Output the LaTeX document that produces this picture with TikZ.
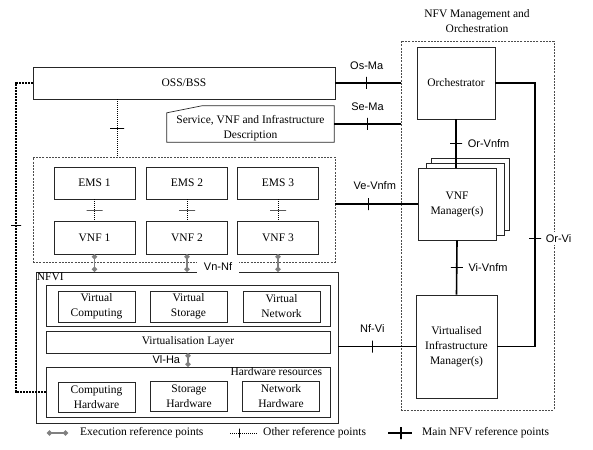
\documentclass[tikz,border=0pt]{standalone}
\usepackage{fontspec}
\setmainfont{Liberation Serif}
\newfontfamily\refsans{Liberation Sans}
\usetikzlibrary{arrows.meta, calc, positioning}

\begin{document}
\begin{tikzpicture}[x=1pt, y=-1pt, font=\fontsize{11.5}{15}\selectfont,
  box/.style={rectangle, draw=black!85, line width=0.7pt, align=center, inner sep=1pt},
  dashbox/.style={rectangle, draw=black!70, line width=0.6pt, dash pattern=on 2pt off 1.2pt},
  reflbl/.style={font=\refsans\fontsize{11}{13}\selectfont, inner sep=1pt, text=black},
  mainref/.style={line width=1.6pt},
  otherref/.style={line width=0.8pt, dash pattern=on 1pt off 1pt},
  execref/.style={line width=1.8pt, draw=gray, arrows={Circle[length=5pt]-Circle[length=5pt]}},
  bigdot/.style={line width=2pt, dash pattern=on 2pt off 1pt},
  tickv/.style={draw, solid, line width=1.2pt, inner sep=0pt, minimum width=0pt, minimum height=12pt},
  tickh/.style={draw, solid, line width=1.2pt, inner sep=0pt, minimum height=0pt, minimum width=12pt}]
  \useasboundingbox (0,0) rectangle (593,449);

  % OSS/BSS and descriptions
  \node[box, minimum width=302pt, minimum height=32pt] (oss) at (184,83) {OSS/BSS};
  \node[minimum width=167pt, minimum height=36pt, inner sep=0pt] (svc) at (250.5,124) {};
  \draw[draw=black!85, line width=0.7pt] ($(svc.north west)+(0,7)$) -- ($(svc.north west)+(35,0)$)
    -- (svc.north east) -- (svc.south east) -- (svc.south west) -- cycle;
  \node[align=center] (svctxt) at ([yshift=-4.5pt]svc.center) {Service, VNF and Infrastructure\\Description};

  % EMS / VNF
  \node[dashbox, minimum width=302pt, minimum height=105pt] (vnfarea) at (184,209.5) {};
  \foreach \i/\x in {1/94.5, 2/187, 3/278} {
    \node[box, minimum width=81pt, minimum height=32pt] (ems\i) at (\x,183) {EMS \i};
    \node[box, minimum width=81pt, minimum height=33pt] (vnf\i) at (\x,237.5) {VNF \i};
    \draw[otherref] (ems\i) -- node[tickh, minimum width=16pt, line width=1pt]{} (vnf\i);
  }

  % NFVI
  \node[box, minimum width=302pt, minimum height=151pt] (nfvi) at (187,347.5) {};
  \node[anchor=north west, inner sep=1pt] (nfvilbl) at (nfvi.north west) {NFVI};
  \node[box, minimum width=284pt, minimum height=41pt] (virt) at (188,305.5) {};
  \node[box, minimum width=77pt, minimum height=31pt] (vcomp) at (96.5,306.5) {Virtual\\Computing};
  \node[box, minimum width=77pt, minimum height=31pt] (vstor) at (188.5,306.5) {Virtual\\Storage};
  \node[box, minimum width=77pt, minimum height=31pt] (vnet) at (281.5,306.5) {Virtual\\Network};
  \node[box, minimum width=284pt, minimum height=22pt] (vlayer) at (188,342) {Virtualisation Layer};
  \node[box, minimum width=284pt, minimum height=50pt] (hwres) at (188,392) {};
  \node[anchor=north east, inner sep=1pt] (hwlbl) at ([xshift=-7pt]hwres.north east) {Hardware resources};
  \node[box, minimum width=77pt, minimum height=30pt] (chw) at (96.5,397) {Computing\\Hardware};
  \node[box, minimum width=77pt, minimum height=30pt] (shw) at (189,396) {Storage\\Hardware};
  \node[box, minimum width=77pt, minimum height=30pt] (nhw) at (281,396) {Network\\Hardware};

  % MANO
  \node[dashbox, minimum width=153pt, minimum height=369pt] (mano) at (477.5,225.5) {};
  \node[align=center] (manotitle) at (477,21) {NFV Management and\\Orchestration};
  \node[box, minimum width=78pt, minimum height=72pt] (orch) at (456,83) {Orchestrator};
  \node[box, fill=white, minimum width=78pt, minimum height=72pt] (vnfmb2) at (470,194) {};
  \node[box, fill=white, minimum width=78pt, minimum height=72pt] (vnfmb1) at (465,199) {};
  \node[box, fill=white, minimum width=78pt, minimum height=72pt] (vnfm) at (457,204) {VNF\\Manager(s)};
  \node[box, minimum width=81pt, minimum height=103pt] (vim) at (456.5,346.5) {Virtualised\\Infrastructure\\Manager(s)};

  % main reference points
  \draw[mainref] (oss.east) -- node[tickv, pos=.48]{} node[reflbl, pos=.48, above=12pt]{Os-Ma} (oss.east -| mano.west);
  \draw[mainref] (svc.east) -- node[tickv, pos=.5]{} node[reflbl, pos=.5, above=12pt]{Se-Ma} (svc.east -| mano.west);
  \draw[mainref] (vnfarea.east |- vnfm.west) -- node[tickv, pos=.4]{} node[reflbl, pos=.48, above=13pt]{Ve-Vnfm} (vnfm.west);
  \draw[mainref] (nfvi.east |- vim.west) -- node[tickv, pos=.44]{} node[reflbl, pos=.44, above=12pt]{Nf-Vi} (vim.west);
  \draw[mainref] (orch.south) -- node[tickh]{} node[reflbl, right=10pt]{Or-Vnfm} (orch.south |- vnfm.north);
  \draw[mainref] (vnfm.south) -- node[tickh]{} node[reflbl, right=10pt]{Vi-Vnfm} (vim.north);
  \coordinate (orvi) at (535,83);
  \draw[mainref] (orch.east) -- (orvi) -- node[tickh, pos=.59]{}
    node[reflbl, pos=.59, right=8pt, fill=white, inner sep=2pt]{Or-Vi} (vim.east -| orvi) -- (vim.east);

  % other reference points
  \coordinate (lft) at (16,83);
  \draw[bigdot] (oss.west) -- (lft) -- node[tickh, pos=.46, minimum width=10pt]{} (lft |- hwres.west) -- (hwres.west);
  \draw[otherref] ([xshift=-67pt]oss.south) -- node[tickh, minimum width=14pt, line width=1pt]{}
    ([xshift=-67pt]oss.south |- vnfarea.north);

  % execution reference points
  \foreach \i in {1,2,3}
    \draw[execref] (vnf\i.south) -- (vnf\i.south |- nfvi.north);
  \node[reflbl, fill=white, minimum width=42pt, minimum height=13pt] (vnnf) at (218,267) {Vn-Nf};
  \draw[execref] (vlayer.south) -- node[reflbl, left=6pt]{Vl-Ha} (hwres.north);

  % legend
  \node[anchor=west, inner sep=0pt] (lgexec) at (80,433) {Execution reference points};
  \draw[execref] ([xshift=-33pt]lgexec.west) -- ([xshift=-12pt]lgexec.west);
  \node[anchor=west, inner sep=0pt] (lgother) at (263,433) {Other reference points};
  \draw[otherref] ([xshift=-33pt]lgother.west) -- node[tickv, pos=.33, minimum height=9pt, line width=0.8pt]{}
    ([xshift=-6pt]lgother.west);
  \node[anchor=west, inner sep=0pt] (lgmain) at (422,433) {Main NFV reference points};
  \draw[mainref] ([xshift=-34pt]lgmain.west) -- node[tickv, pos=.54]{} ([xshift=-10pt]lgmain.west);
\end{tikzpicture}
\end{document}
